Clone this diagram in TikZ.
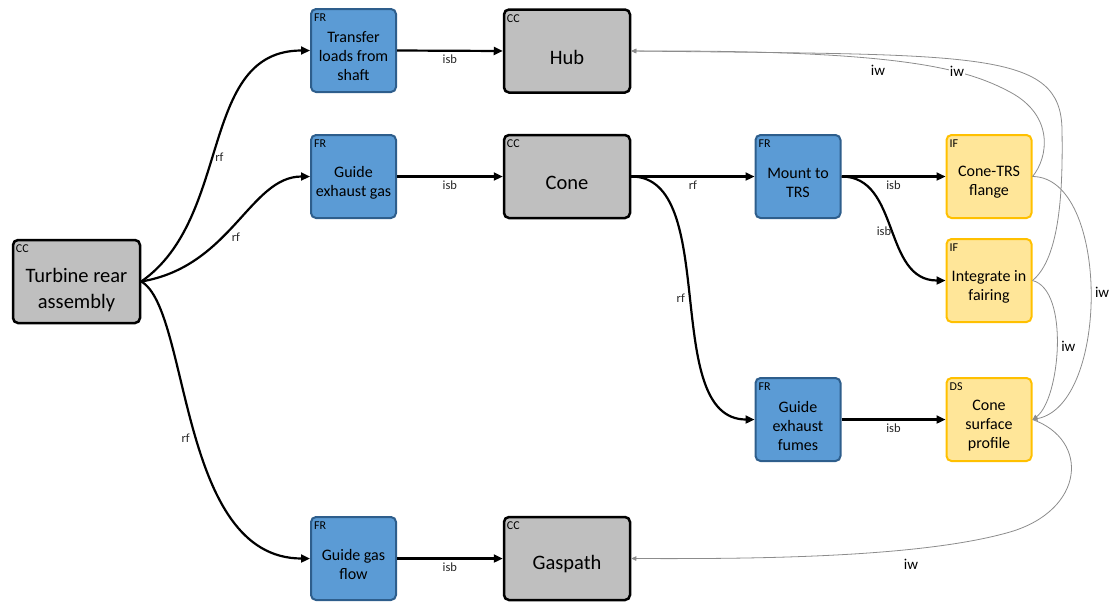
\documentclass[tikz,border=0pt]{standalone}
\usepackage{fontspec}
\setmainfont{Carlito}
\usetikzlibrary{arrows.meta}
\definecolor{frfill}{HTML}{5B9BD5}
\definecolor{frdraw}{HTML}{2E5E8C}
\definecolor{ccfill}{HTML}{BFBFBF}
\definecolor{iffill}{HTML}{FFE699}
\definecolor{ifdraw}{HTML}{FFC000}
\definecolor{iwcol}{HTML}{8C8C8C}
\begin{document}
\begin{tikzpicture}[x=1pt,y=-1pt,
 box/.style={rounded corners=5pt, minimum width=85pt, minimum height=83pt, inner sep=0pt},
 frbox/.style={box, fill=frfill, draw=frdraw, line width=2pt},
 ccbox/.style={box, fill=ccfill, draw=black, line width=2.5pt, minimum width=126pt},
 ifbox/.style={box, fill=iffill, draw=ifdraw, line width=2pt},
 tag/.style={anchor=north west, inner sep=0pt, font=\fontsize{12}{14}\selectfont},
 frtxt/.style={align=center, inner sep=0pt, font=\fontsize{16}{19}\selectfont},
 cctxt/.style={align=center, inner sep=0pt, font=\fontsize{20.5}{26}\selectfont},
 flow/.style={line width=2.2pt, -{Triangle[length=9pt,width=8pt]}},
 iwline/.style={draw=iwcol, line width=0.8pt, -{Triangle[length=5pt,width=4.5pt]}},
 elab/.style={font=\fontsize{12.5}{14}\selectfont, text=black!85, inner sep=1pt},
 iwlab/.style={font=\fontsize{15}{17}\selectfont, inner sep=1pt},
]
\useasboundingbox (0,0) rectangle (1111,603);

% ---- boxes ----
\node[ccbox, minimum width=127pt] (tra) at (76.5,281.5) {};
\node[cctxt] (traT) at ([yshift=-9pt]tra.center) {Turbine rear\\assembly};
\node[tag] (traG) at ([xshift=4pt,yshift=-6pt]tra.north west) {CC};

\node[frbox] (tl) at (353.5,50.5) {};
\node[frtxt] (tlT) at ([yshift=-6pt]tl.center) {Transfer\\loads from\\shaft};
\node[tag] (tlG) at ([xshift=4pt,yshift=-6pt]tl.north west) {FR};

\node[ccbox] (hub) at (567,51) {};
\node[cctxt] (hubT) at ([yshift=-6pt]hub.center) {Hub};
\node[tag] (hubG) at ([xshift=4pt,yshift=-6pt]hub.north west) {CC};

\node[frbox] (geg) at (353.5,176.5) {};
\node[frtxt] (gegT) at ([yshift=-6pt]geg.center) {Guide\\exhaust gas};
\node[tag] (gegG) at ([xshift=4pt,yshift=-6pt]geg.north west) {FR};

\node[ccbox] (cone) at (567,176.5) {};
\node[cctxt] (coneT) at ([yshift=-6pt]cone.center) {Cone};
\node[tag] (coneG) at ([xshift=4pt,yshift=-6pt]cone.north west) {CC};

\node[frbox] (mnt) at (798,176.5) {};
\node[frtxt] (mntT) at ([yshift=-6pt]mnt.center) {Mount to\\TRS};
\node[tag] (mntG) at ([xshift=4pt,yshift=-6pt]mnt.north west) {FR};

\node[ifbox] (ctf) at (989,176.5) {};
\node[frtxt] (ctfT) at ([yshift=-6pt]ctf.center) {Cone-TRS\\flange};
\node[tag] (ctfG) at ([xshift=4pt,yshift=-6pt]ctf.north west) {IF};

\node[ifbox] (inf) at (989,280.5) {};
\node[frtxt] (infT) at ([yshift=-6pt]inf.center) {Integrate in\\fairing};
\node[tag] (infG) at ([xshift=4pt,yshift=-6pt]inf.north west) {IF};

\node[frbox] (gef) at (798,419.5) {};
\node[frtxt] (gefT) at ([yshift=-6pt]gef.center) {Guide\\exhaust\\fumes};
\node[tag] (gefG) at ([xshift=4pt,yshift=-6pt]gef.north west) {FR};

\node[ifbox] (csp) at (989,419.5) {};
\node[frtxt] (cspT) at ([yshift=-6pt]csp.center) {Cone\\surface\\profile};
\node[tag] (cspG) at ([xshift=4pt,yshift=-6pt]csp.north west) {DS};

\node[frbox] (ggf) at (353.5,558.5) {};
\node[frtxt] (ggfT) at ([yshift=-6pt]ggf.center) {Guide gas\\flow};
\node[tag] (ggfG) at ([xshift=4pt,yshift=-6pt]ggf.north west) {FR};

\node[ccbox] (gas) at (567,558.5) {};
\node[cctxt] (gasT) at ([yshift=-6pt]gas.center) {Gaspath};
\node[tag] (gasG) at ([xshift=4pt,yshift=-6pt]gas.north west) {CC};

% ---- black flows ----
\draw[flow] (tra.east) .. controls +(92,-64) and +(-112,0) .. (tl.west)
  node[elab, pos=0.45, right] {rf};
\draw[flow] (tra.east) .. controls +(90,-15) and +(-60,0) .. (geg.west)
  node[elab, pos=0.45, below right] {rf};
\draw[flow] (tra.east) .. controls +(49,28) and +(-132,0) .. (ggf.west)
  node[elab, pos=0.52, left=5pt] {rf};

\draw[flow] (tl.east) -- (hub.west) node[elab, midway, below=2pt] {isb};
\draw[flow] (geg.east) -- (cone.west) node[elab, midway, below=2pt] {isb};
\draw[flow] (ggf.east) -- (gas.west) node[elab, midway, below=2pt] {isb};

\draw[flow] (cone.east) -- (mnt.west) node[elab, midway, below=2pt] {rf};
\draw[flow] (cone.east) .. controls +(90,0) and +(-95,0) .. (gef.west)
  node[elab, pos=0.5, left=4pt] {rf};

\draw[flow] (mnt.east) -- (ctf.west) node[elab, pos=0.5, below=2pt] {isb};
\draw[flow] (mnt.east) .. controls +(59,0) and +(-63,0) .. (inf.west)
  node[elab, pos=0.52, left] {isb};
\draw[flow] (gef.east) -- (csp.west) node[elab, midway, below=2pt] {isb};

% ---- grey iw links ----
\coordinate (a1) at (1010,92);
\draw[iwline] (ctf.east) .. controls (1048,158) and (1055,116) .. (a1)
  .. controls (965,68) and (900,50) .. (hub.east)
  node[iwlab, pos=0.31, fill=white] {iw};
\coordinate (b1) at (1062,130);
\draw[iwline] (inf.east) .. controls (1060,258) and (1063,190) .. (b1)
  .. controls (1061,50) and (980,55) .. (hub.east)
  node[iwlab, pos=0.7, below=9pt] {iw};
\draw[iwline] (ctf.east) .. controls (1110,177) and (1110,405) .. (csp.east)
  node[iwlab, pos=0.5, right=3pt] {iw};
\draw[iwline] (inf.east) .. controls (1070,290) and (1060,400) .. (csp.east)
  node[iwlab, pos=0.5, right=3pt] {iw};
\coordinate (e1) at (1010,532);
\draw[iwline] (csp.east) .. controls (1090,440) and (1085,510) .. (e1)
  .. controls (920,558) and (750,559) .. (gas.east)
  node[iwlab, pos=0.3, below=8pt] {iw};
\end{tikzpicture}
\end{document}
